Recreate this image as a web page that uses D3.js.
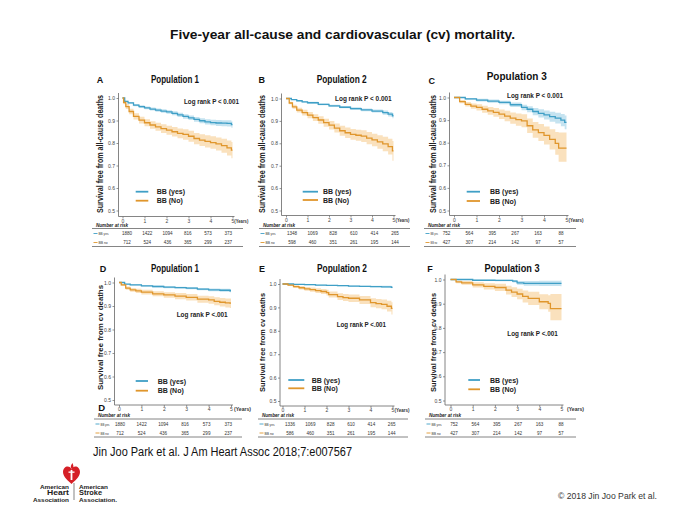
<!DOCTYPE html>
<html><head><meta charset="utf-8">
<script src="https://cdn.jsdelivr.net/npm/d3@7"></script>
<style>body{margin:0;background:#fff}svg{display:block;font-family:"Liberation Sans",Arial,sans-serif}</style>
</head><body><svg id="c" width="680" height="510"></svg>
<script>
// ---------------- DATA ----------------
const mainTitle = "Five-year all-cause and cardiovascular (cv) mortality.";
const citation = "Jin Joo Park et al. J Am Heart Assoc 2018;7:e007567";
const copyright = "\u00A9 2018 Jin Joo Park et al.";
const years = [0, 1, 2, 3, 4, 5];
const survTicks = [0.5, 0.6, 0.7, 0.8, 0.9, 1.0];
const panelLetters = ["A", "B", "C", "D", "E", "F"];
const panelTitles = ["Population 1", "Population 2", "Population 3", "Population 1", "Population 2", "Population 3"];
const yTitles = ["Survival free from all-cause deaths", "Survival free from all-cause deaths", "Survival free from all-cause deaths",
                 "Survival free from cv deaths", "Survival free from cv deaths", "Survival free from cv deaths"];
const logRankLabels = ["Log rank P < 0.001", "Log rank P < 0.001", "Log rank P < 0.001",
                       "Log rank P <.001", "Log rank P <.001", "Log rank P <.001"];
const groupLabels = ["BB (yes)", "BB (No)"];
const riskRowLabels = ["BB yes", "BB no"];
const riskHeader = "Number at risk";
const riskYes = [[1880, 1422, 1094, 816, 573, 373], [1348, 1069, 828, 610, 414, 265], [752, 564, 395, 267, 163, 88],
                 [1880, 1422, 1094, 816, 573, 373], [1336, 1069, 828, 610, 414, 265], [752, 564, 395, 267, 163, 88]];
const riskNo  = [[712, 524, 436, 365, 299, 237], [598, 460, 351, 261, 195, 144], [427, 307, 214, 142, 97, 57],
                 [712, 524, 436, 365, 299, 237], [586, 460, 351, 261, 195, 144], [427, 307, 214, 142, 97, 57]];

// survival curves: [year, survival, lower CI, upper CI]
const allCausePop1Yes = [[0,1,1,1],[0.1,.985,.982,.988],[0.25,.978,.974,.982],[0.5,.968,.963,.973],[0.75,.962,.956,.968],[1,.956,.950,.962],[1.25,.951,.944,.958],[1.5,.946,.939,.953],[1.75,.942,.934,.950],[2,.938,.930,.946],[2.25,.932,.923,.941],[2.5,.925,.916,.934],[2.75,.918,.908,.928],[3,.912,.902,.922],[3.25,.905,.894,.916],[3.5,.899,.888,.910],[3.75,.894,.882,.906],[4,.891,.879,.903],[4.25,.889,.876,.902],[4.5,.888,.875,.901],[4.75,.887,.873,.901],[4.95,.882,.868,.896],[5,.882,.868,.896]];
const allCausePop1No = [[0,1,1,1],[0.05,.98,.972,.988],[0.15,.962,.951,.973],[0.3,.94,.928,.952],[0.5,.918,.904,.932],[0.75,.902,.887,.917],[1,.89,.874,.906],[1.25,.88,.863,.897],[1.5,.872,.854,.890],[1.75,.864,.845,.883],[2,.857,.837,.877],[2.25,.85,.829,.871],[2.5,.843,.821,.865],[2.75,.838,.815,.861],[3,.83,.806,.854],[3.25,.82,.795,.845],[3.5,.813,.787,.839],[3.75,.807,.780,.834],[4,.802,.774,.830],[4.25,.796,.767,.825],[4.5,.788,.757,.819],[4.75,.778,.745,.811],[4.95,.768,.732,.804],[5,.768,.732,.804]];
const allCausePop2Yes = [[0,1,1,1],[0.25,.995,.993,.997],[0.5,.99,.987,.993],[0.75,.985,.982,.988],[1,.981,.977,.985],[1.5,.974,.970,.978],[2,.967,.962,.972],[2.5,.961,.956,.966],[3,.955,.949,.961],[3.5,.949,.943,.955],[4,.944,.937,.951],[4.5,.937,.928,.946],[4.75,.93,.92,.94],[4.95,.923,.912,.934],[5,.923,.912,.934]];
const allCausePop2No = [[0,1,1,1],[0.15,.98,.974,.986],[0.3,.963,.954,.972],[0.5,.948,.937,.959],[0.75,.937,.924,.950],[1,.926,.912,.940],[1.25,.915,.900,.930],[1.5,.904,.887,.921],[1.75,.892,.874,.910],[2,.881,.862,.900],[2.25,.868,.848,.888],[2.5,.856,.834,.878],[2.75,.847,.824,.870],[3,.84,.816,.864],[3.25,.836,.811,.861],[3.5,.832,.806,.858],[3.75,.823,.796,.850],[4,.815,.787,.843],[4.25,.806,.776,.836],[4.5,.797,.765,.829],[4.75,.785,.750,.820],[4.95,.766,.722,.810],[5,.766,.722,.810]];
const allCausePop3Yes = [[0,1,1,1],[0.5,.994,.990,.998],[1,.988,.982,.994],[1.5,.984,.977,.991],[2,.978,.970,.986],[2.5,.968,.958,.978],[3,.956,.944,.968],[3.25,.948,.935,.961],[3.5,.938,.922,.954],[3.75,.93,.912,.948],[4,.923,.903,.943],[4.25,.915,.893,.937],[4.5,.909,.885,.933],[4.75,.9,.873,.927],[4.92,.89,.86,.92],[5,.89,.86,.92]];
const allCausePop3No = [[0,1,1,1],[0.25,.982,.975,.989],[0.5,.97,.960,.980],[0.75,.962,.950,.974],[1,.956,.942,.970],[1.25,.948,.932,.964],[1.5,.941,.924,.958],[1.75,.934,.915,.953],[2,.926,.905,.947],[2.25,.918,.895,.941],[2.5,.909,.884,.934],[2.75,.902,.875,.929],[3,.897,.868,.926],[3.25,.875,.843,.907],[3.5,.857,.822,.892],[3.75,.845,.807,.883],[4,.832,.792,.872],[4.25,.815,.770,.860],[4.5,.797,.747,.847],[4.65,.776,.716,.845],[5,.776,.716,.845]];
const cvPop1Yes = [[0,1,1,1],[0.25,.993,.991,.995],[0.5,.99,.987,.993],[1,.986,.983,.989],[1.5,.983,.979,.987],[2,.98,.976,.984],[2.5,.978,.974,.982],[3,.976,.971,.981],[3.5,.972,.967,.977],[4,.969,.963,.975],[4.5,.967,.961,.973],[4.95,.965,.958,.972],[5,.965,.958,.972]];
const cvPop1No = [[0,1,1,1],[0.1,.99,.985,.995],[0.3,.976,.969,.983],[0.5,.969,.961,.977],[0.75,.964,.955,.973],[1,.959,.949,.969],[1.5,.952,.941,.963],[2,.947,.935,.959],[2.5,.942,.929,.955],[3,.937,.923,.951],[3.5,.929,.914,.944],[4,.926,.910,.942],[4.25,.92,.903,.937],[4.5,.916,.898,.934],[4.75,.913,.894,.932],[4.95,.912,.892,.932],[5,.912,.892,.932]];
const cvPop2Yes = [[0,1,1,1],[0.5,.998,.996,1],[1,.997,.995,.999],[1.5,.995,.993,.997],[2,.994,.992,.996],[2.5,.993,.990,.996],[3,.991,.988,.994],[3.5,.990,.987,.993],[4,.989,.986,.992],[4.5,.988,.984,.992],[4.95,.986,.982,.990],[5,.986,.982,.990]];
const cvPop2No = [[0,1,1,1],[0.25,.995,.991,.999],[0.5,.989,.983,.995],[0.75,.984,.977,.991],[1,.979,.971,.987],[1.25,.976,.967,.985],[1.5,.972,.962,.982],[1.75,.968,.957,.979],[2,.963,.951,.975],[2.1,.955,.942,.968],[2.5,.946,.932,.960],[2.75,.942,.927,.957],[3,.939,.923,.955],[3.5,.932,.915,.949],[4,.92,.901,.939],[4.25,.916,.896,.936],[4.5,.913,.892,.934],[4.75,.905,.882,.928],[4.95,.896,.870,.922],[5,.896,.870,.922]];
const cvPop3Yes = [[0,1,1,1],[1,.997,.995,.999],[2,.996,.993,.999],[2.8,.993,.988,.998],[3,.986,.978,.994],[3.3,.984,.974,.994],[4,.984,.973,.995],[4.95,.984,.972,.996],[5,.984,.972,.996]];
const cvPop3No = [[0,1,1,1],[0.25,.99,.984,.996],[0.5,.986,.978,.994],[1,.978,.967,.989],[1.5,.972,.959,.985],[2,.967,.952,.982],[2.5,.956,.938,.974],[2.75,.948,.928,.968],[3,.94,.918,.962],[3.25,.93,.905,.955],[3.5,.922,.895,.949],[4,.908,.877,.939],[4.4,.901,.867,.935],[4.5,.88,.832,.94],[5,.88,.832,.94]];

const curvesYes = [allCausePop1Yes, allCausePop2Yes, allCausePop3Yes, cvPop1Yes, cvPop2Yes, cvPop3Yes];
const curvesNo  = [allCausePop1No, allCausePop2No, allCausePop3No, cvPop1No, cvPop2No, cvPop3No];

// ---------------- LAYOUT / STYLE ----------------
const colYes = "#3f9fc6", colNo = "#e0962c", bandYes = "#bfe0ee", bandNo = "#f9dcb1";
const L = [
 {ax:118.5,x0:122.5,x5:232.5,y10:98,y05:210.5,ay:216.5, letter:[100,82.5], letter2:null, title:[175,82.5,48],
  yt:[100,154,118,8.5], lr:[184,103.5,55], lg:[135.7,148.3,156.7,191.7,200.7], tb:[92,243,127,228.3,10], tr:[226.5,228.5,235,244,246.5], yrs:[234.3,14]},
 {ax:281.5,x0:286,x5:393.5,y10:98.5,y05:210.5,ay:215.5, letter:[261.7,82.5], letter2:null, title:[341.7,82.5,50],
  yt:[262,154,118,8.5], lr:[335,100.5,56.7], lg:[302.7,318,323,191.7,200], tb:[259,410,292,395,10], tr:[226.5,228.5,235,244,246.5], yrs:[395.5,14]},
 {ax:449.5,x0:454,x5:566.5,y10:97.5,y05:210.5,ay:215.5, letter:[431.7,83.5], letter2:null, title:[516.7,80.3,60],
  yt:[432.7,154,118,8.5], lr:[507,97.5,56], lg:[466.7,480,490,191.7,201], tb:[424,576,446.5,561,7.5], tr:[226.5,228.5,235,244,246.5], yrs:[568.5,15]},
 {ax:114.5,x0:119,x5:231,y10:282.5,y05:400,ay:405, letter:[103,271.5], letter2:[101.7,410.5], title:[175,271.5,48],
  yt:[100,337.5,105,8], lr:[176.7,317,51], lg:[135.7,148,157.7,381,390.7], tb:[94,242,120,228.3,9], tr:[417,419,425.5,434.5,437], yrs:[234,17]},
 {ax:280,x0:282.5,x5:392.5,y10:284,y05:401,ay:406, letter:[262,271.5], letter2:null, title:[342,271.5,50],
  yt:[262,342.5,99,8], lr:[336.7,327,49.3], lg:[288.3,304.3,311.7,380,388.3], tb:[258,408,290,391.7,10], tr:[417,419,425.5,434.5,437], yrs:[394.5,15]},
 {ax:445,x0:450.5,x5:561.5,y10:279.5,y05:400.5,ay:405, letter:[430,271.5], letter2:null, title:[512,271.5,55],
  yt:[432.7,342.5,99,8], lr:[507.3,336,50.4], lg:[468.3,480,490,380,389.3], tb:[425,576,454,561,10], tr:[417,419,425.5,434.5,437], yrs:[567,17]}
];

const svg = d3.select("#c");
svg.append("rect").attr("width",680).attr("height",510).attr("fill","#fff");

svg.append("text").attr("x",342.5).attr("y",39).attr("text-anchor","middle")
  .attr("font-size",12).attr("font-weight","bold").attr("fill","#111")
  .attr("textLength",345).attr("lengthAdjust","spacingAndGlyphs").text(mainTitle);

panelLetters.forEach((letter, i) => {
  const p = L[i];
  const g = svg.append("g");
  const x = d3.scaleLinear().domain([0,5]).range([p.x0, p.x5]);
  const y = d3.scaleLinear().domain([0.5,1]).range([p.y05, p.y10]);

  // bands
  const area = d3.area().curve(d3.curveStepAfter).x(d => x(d[0])).y0(d => y(d[2])).y1(d => y(d[3]));
  const line = d3.line().curve(d3.curveStepAfter).x(d => x(d[0])).y(d => y(d[1]));
  g.append("path").attr("d", area(curvesYes[i])).attr("fill", bandYes).attr("opacity",0.9);
  g.append("path").attr("d", area(curvesNo[i])).attr("fill", bandNo).attr("opacity",0.85);
  g.append("path").attr("d", line(curvesYes[i])).attr("fill","none").attr("stroke",colYes).attr("stroke-width",1.3);
  g.append("path").attr("d", line(curvesNo[i])).attr("fill","none").attr("stroke",colNo).attr("stroke-width",1.3);

  // axes
  const yAx = g.append("g").attr("transform",`translate(${p.ax},0)`)
    .call(d3.axisLeft(y).tickValues(survTicks).tickFormat(d3.format(".1f")).tickSize(2).tickPadding(1.5).tickSizeOuter(0));
  const xAx = g.append("g").attr("transform",`translate(0,${p.ay})`)
    .call(d3.axisBottom(x).tickValues(years).tickFormat(d3.format("d")).tickSize(2).tickPadding(0.8).tickSizeOuter(0));
  [yAx, xAx].forEach(a => {
    a.select(".domain").remove();
    a.selectAll("line").attr("stroke","#666").attr("stroke-width",0.7);
    a.selectAll("text").attr("font-size",5).attr("fill","#444").attr("font-family","Liberation Sans, Arial, sans-serif");
  });
  g.append("line").attr("x1",p.ax).attr("x2",p.ax).attr("y1",p.ay).attr("y2",y(1)-5).attr("stroke","#666").attr("stroke-width",0.8);
  g.append("line").attr("x1",p.ax).attr("x2",x(5)+2).attr("y1",p.ay).attr("y2",p.ay).attr("stroke","#666").attr("stroke-width",0.8);
  g.append("text").attr("x",p.yrs[0]).attr("y",p.ay+6).attr("font-size",5.5).attr("font-weight","bold").attr("fill","#333")
    .attr("textLength",p.yrs[1]).attr("lengthAdjust","spacingAndGlyphs").text("(Years)");

  // y title
  g.append("text").attr("transform",`translate(${p.yt[0]+3},${p.yt[1]}) rotate(-90)`).attr("text-anchor","middle")
    .attr("font-size",p.yt[3]).attr("font-weight","bold").attr("fill","#222")
    .attr("textLength",p.yt[2]).attr("lengthAdjust","spacingAndGlyphs").text(yTitles[i]);

  // letter + title
  g.append("text").attr("x",p.letter[0]).attr("y",p.letter[1]).attr("text-anchor","middle")
    .attr("font-size",9).attr("font-weight","bold").attr("fill","#111").text(letter);
  if (p.letter2) g.append("text").attr("x",p.letter2[0]).attr("y",p.letter2[1]).attr("text-anchor","middle")
    .attr("font-size",9.5).attr("font-weight","bold").attr("fill","#111").text(letter);
  g.append("text").attr("x",p.title[0]).attr("y",p.title[1]).attr("text-anchor","middle")
    .attr("font-size",10).attr("font-weight","bold").attr("fill","#111")
    .attr("textLength",p.title[2]).attr("lengthAdjust","spacingAndGlyphs").text(panelTitles[i]);

  // log rank
  g.append("text").attr("x",p.lr[0]).attr("y",p.lr[1]).attr("font-size",7).attr("font-weight","bold").attr("fill","#222")
    .attr("textLength",p.lr[2]).attr("lengthAdjust","spacingAndGlyphs").text(logRankLabels[i]);

  // legend
  [colYes, colNo].forEach((c, k) => {
    const ly = p.lg[3 + k];
    g.append("line").attr("x1",p.lg[0]).attr("x2",p.lg[1]).attr("y1",ly).attr("y2",ly).attr("stroke",c).attr("stroke-width",1.8);
    g.append("text").attr("x",p.lg[2]).attr("y",ly+2.5).attr("font-size",7).attr("font-weight","bold").attr("fill","#222").text(groupLabels[k]);
  });

  // risk table
  const [tl, tr, c0, c5, lw] = p.tb;
  const cx = d3.scaleLinear().domain([0,5]).range([c0, c5]);
  g.append("text").attr("x",tl+4).attr("y",p.tr[0]).attr("font-size",4.6).attr("font-style","italic").attr("font-weight","bold").attr("fill","#222").text(riskHeader);
  g.append("line").attr("x1",tl).attr("x2",tr).attr("y1",p.tr[1]).attr("y2",p.tr[1]).attr("stroke","#777").attr("stroke-width",0.9);
  g.append("line").attr("x1",tl).attr("x2",tr).attr("y1",p.tr[4]).attr("y2",p.tr[4]).attr("stroke","#777").attr("stroke-width",0.9);
  [[riskYes[i], colYes], [riskNo[i], colNo]].forEach(([vals, c], k) => {
    const ry = p.tr[2 + k];
    g.append("line").attr("x1",tl+1.5).attr("x2",tl+5.5).attr("y1",ry-1.5).attr("y2",ry-1.5).attr("stroke",c).attr("stroke-width",0.9);
    g.append("text").attr("x",tl+6.5).attr("y",ry).attr("font-size",4.2).attr("fill","#333")
      .attr("textLength",lw - (k ? 0.8 : 0)).attr("lengthAdjust","spacingAndGlyphs").text(riskRowLabels[k]);
    g.selectAll(null).data(vals).enter().append("text")
      .attr("x",(d, j) => cx(years[j])).attr("y",ry).attr("text-anchor","middle")
      .attr("font-size",4.6).attr("fill","#333").text(d => d);
  });
});

// citation & copyright
svg.append("text").attr("x",93).attr("y",455.5).attr("font-size",12.5).attr("fill","#111")
  .attr("textLength",259).attr("lengthAdjust","spacingAndGlyphs").text(citation);
svg.append("text").attr("x",558).attr("y",499).attr("font-size",8.5).attr("fill","#333")
  .attr("textLength",99).attr("lengthAdjust","spacingAndGlyphs").text(copyright);

// AHA / ASA logo
const logo = svg.append("g");
logo.append("path").attr("transform","translate(71.5,475)")
  .attr("d","M0,9 C-3,6 -8.5,2 -8.5,-3 C-8.5,-6.5 -6,-8.5 -4,-8.5 C-2,-8.5 -0.5,-7.5 0,-5.5 C0.5,-7.5 2,-8.5 4,-8.5 C6,-8.5 8.5,-6.5 8.5,-3 C8.5,2 3,6 0,9 Z")
  .attr("fill","#d51f26");
logo.append("rect").attr("x",70.6).attr("y",470).attr("width",1.8).attr("height",10).attr("fill","#fff");
logo.append("rect").attr("x",68.5).attr("y",471.5).attr("width",6).attr("height",1.3).attr("fill","#fff");
logo.append("path").attr("d","M71.5,469 C70,467 71,465 72.5,463 C73,465 74,466 73,468 Z").attr("fill","#d51f26");
logo.append("line").attr("x1",74).attr("x2",74).attr("y1",483).attr("y2",500).attr("stroke","#333").attr("stroke-width",0.6);
const lt = [["American",486.5,5.8,29],["Heart",493.2,7.5,22],["Association",499.5,5.8,36]];
const rt = [["American",486.5,5.8,29],["Stroke",493.2,7.5,23],["Association.",499.5,5.8,38]];
lt.forEach(([t, yy, fs, w]) => logo.append("text").attr("x",69).attr("y",yy+2).attr("text-anchor","end")
  .attr("font-size",fs).attr("font-weight","bold").attr("fill","#222").attr("textLength",w).attr("lengthAdjust","spacingAndGlyphs").text(t));
rt.forEach(([t, yy, fs, w]) => logo.append("text").attr("x",79).attr("y",yy+2)
  .attr("font-size",fs).attr("font-weight","bold").attr("fill","#222").attr("textLength",w).attr("lengthAdjust","spacingAndGlyphs").text(t));
</script></body></html>
